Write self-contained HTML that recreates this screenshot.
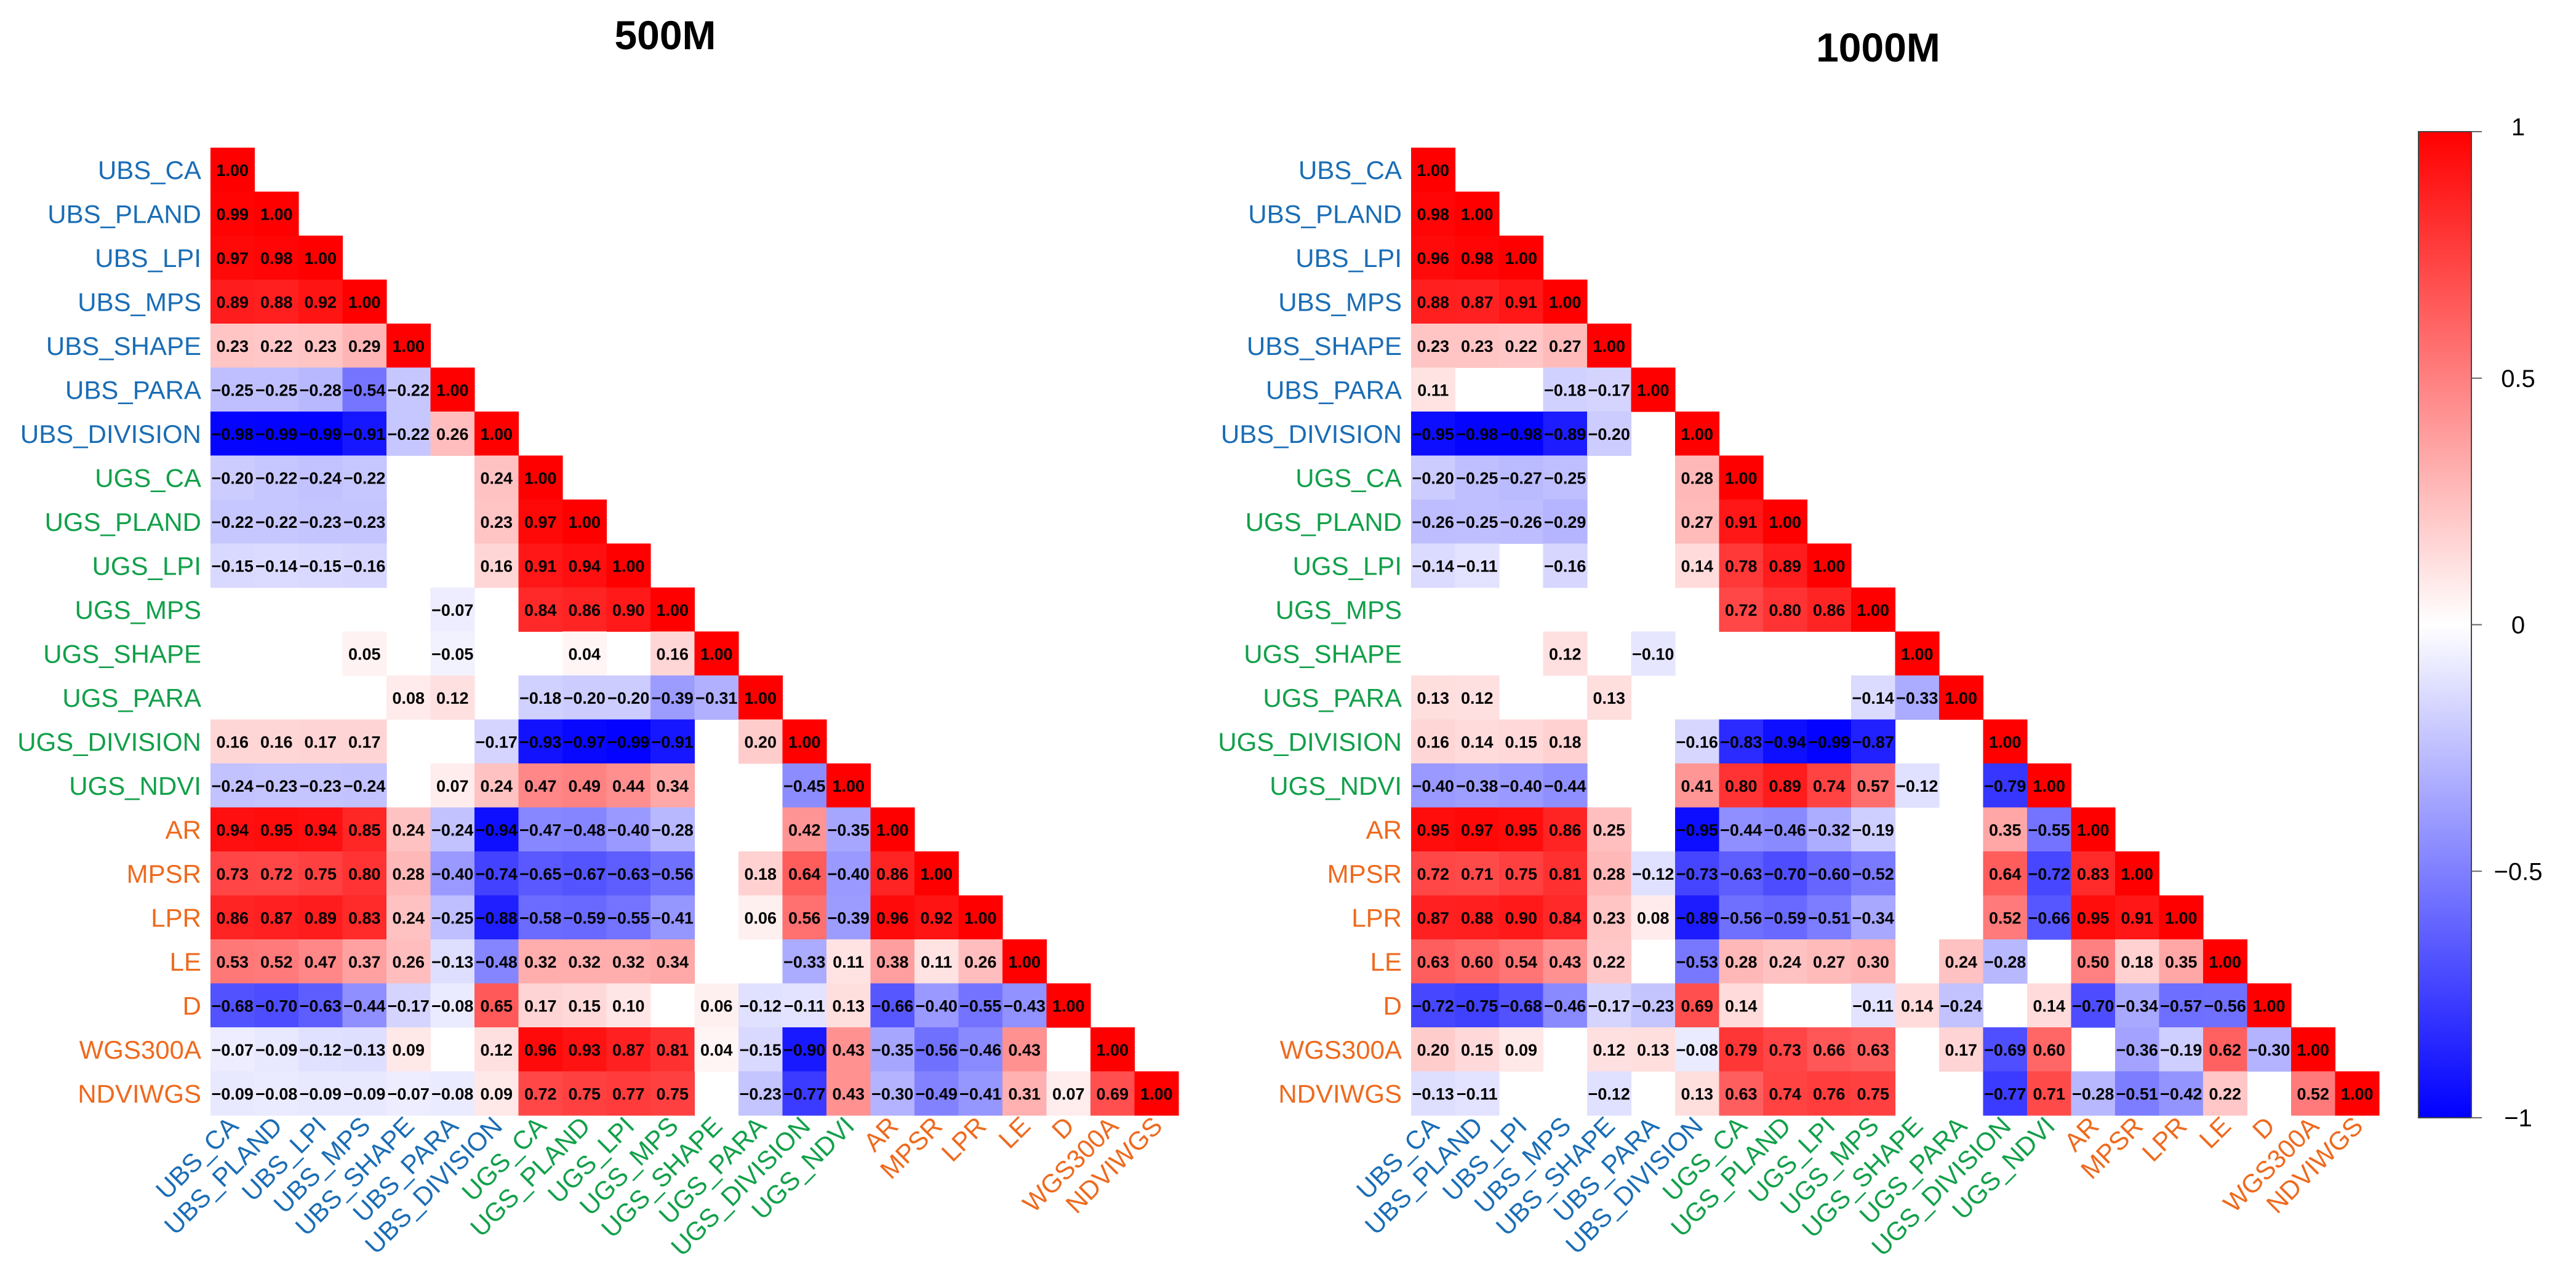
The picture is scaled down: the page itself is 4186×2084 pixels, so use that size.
<!DOCTYPE html>
<html><head><meta charset="utf-8"><title>Correlation matrices 500M / 1000M</title>
<style>
html,body{margin:0;padding:0;background:#fff;}
svg{display:block;font-family:"Liberation Sans",Arial,sans-serif;}
</style></head>
<body>
<svg id="chart" width="4186" height="2084" viewBox="0 0 4186 2084" xmlns="http://www.w3.org/2000/svg">
<defs>
<linearGradient id="cbar" x1="0" y1="0" x2="0" y2="1">
<stop offset="0" stop-color="#ff0000"/><stop offset="0.5" stop-color="#ffffff"/><stop offset="1" stop-color="#0000ff"/>
</linearGradient>
</defs>
<text x="1081" y="80" font-size="66" font-weight="bold" text-anchor="middle">500M</text>
<text x="3052" y="100" font-size="66" font-weight="bold" text-anchor="middle">1000M</text>
<g id="m1"></g>
<g id="m2"></g>
<g id="cb"></g>
</svg>
<script>
const variables = ["UBS_CA","UBS_PLAND","UBS_LPI","UBS_MPS","UBS_SHAPE","UBS_PARA","UBS_DIVISION","UGS_CA","UGS_PLAND","UGS_LPI","UGS_MPS","UGS_SHAPE","UGS_PARA","UGS_DIVISION","UGS_NDVI","AR","MPSR","LPR","LE","D","WGS300A","NDVIWGS"];
const groups = ["b","b","b","b","b","b","b","g","g","g","g","g","g","g","g","o","o","o","o","o","o","o"];
const N = null;
const corr500 = [
[1.00],
[0.99,1.00],
[0.97,0.98,1.00],
[0.89,0.88,0.92,1.00],
[0.23,0.22,0.23,0.29,1.00],
[-0.25,-0.25,-0.28,-0.54,-0.22,1.00],
[-0.98,-0.99,-0.99,-0.91,-0.22,0.26,1.00],
[-0.20,-0.22,-0.24,-0.22,N,N,0.24,1.00],
[-0.22,-0.22,-0.23,-0.23,N,N,0.23,0.97,1.00],
[-0.15,-0.14,-0.15,-0.16,N,N,0.16,0.91,0.94,1.00],
[N,N,N,N,N,-0.07,N,0.84,0.86,0.90,1.00],
[N,N,N,0.05,N,-0.05,N,N,0.04,N,0.16,1.00],
[N,N,N,N,0.08,0.12,N,-0.18,-0.20,-0.20,-0.39,-0.31,1.00],
[0.16,0.16,0.17,0.17,N,N,-0.17,-0.93,-0.97,-0.99,-0.91,N,0.20,1.00],
[-0.24,-0.23,-0.23,-0.24,N,0.07,0.24,0.47,0.49,0.44,0.34,N,N,-0.45,1.00],
[0.94,0.95,0.94,0.85,0.24,-0.24,-0.94,-0.47,-0.48,-0.40,-0.28,N,N,0.42,-0.35,1.00],
[0.73,0.72,0.75,0.80,0.28,-0.40,-0.74,-0.65,-0.67,-0.63,-0.56,N,0.18,0.64,-0.40,0.86,1.00],
[0.86,0.87,0.89,0.83,0.24,-0.25,-0.88,-0.58,-0.59,-0.55,-0.41,N,0.06,0.56,-0.39,0.96,0.92,1.00],
[0.53,0.52,0.47,0.37,0.26,-0.13,-0.48,0.32,0.32,0.32,0.34,N,N,-0.33,0.11,0.38,0.11,0.26,1.00],
[-0.68,-0.70,-0.63,-0.44,-0.17,-0.08,0.65,0.17,0.15,0.10,N,0.06,-0.12,-0.11,0.13,-0.66,-0.40,-0.55,-0.43,1.00],
[-0.07,-0.09,-0.12,-0.13,0.09,N,0.12,0.96,0.93,0.87,0.81,0.04,-0.15,-0.90,0.43,-0.35,-0.56,-0.46,0.43,N,1.00],
[-0.09,-0.08,-0.09,-0.09,-0.07,-0.08,0.09,0.72,0.75,0.77,0.75,N,-0.23,-0.77,0.43,-0.30,-0.49,-0.41,0.31,0.07,0.69,1.00]
];
const corr1000 = [
[1.00],
[0.98,1.00],
[0.96,0.98,1.00],
[0.88,0.87,0.91,1.00],
[0.23,0.23,0.22,0.27,1.00],
[0.11,N,N,-0.18,-0.17,1.00],
[-0.95,-0.98,-0.98,-0.89,-0.20,N,1.00],
[-0.20,-0.25,-0.27,-0.25,N,N,0.28,1.00],
[-0.26,-0.25,-0.26,-0.29,N,N,0.27,0.91,1.00],
[-0.14,-0.11,N,-0.16,N,N,0.14,0.78,0.89,1.00],
[N,N,N,N,N,N,N,0.72,0.80,0.86,1.00],
[N,N,N,0.12,N,-0.10,N,N,N,N,N,1.00],
[0.13,0.12,N,N,0.13,N,N,N,N,N,-0.14,-0.33,1.00],
[0.16,0.14,0.15,0.18,N,N,-0.16,-0.83,-0.94,-0.99,-0.87,N,N,1.00],
[-0.40,-0.38,-0.40,-0.44,N,N,0.41,0.80,0.89,0.74,0.57,-0.12,N,-0.79,1.00],
[0.95,0.97,0.95,0.86,0.25,N,-0.95,-0.44,-0.46,-0.32,-0.19,N,N,0.35,-0.55,1.00],
[0.72,0.71,0.75,0.81,0.28,-0.12,-0.73,-0.63,-0.70,-0.60,-0.52,N,N,0.64,-0.72,0.83,1.00],
[0.87,0.88,0.90,0.84,0.23,0.08,-0.89,-0.56,-0.59,-0.51,-0.34,N,N,0.52,-0.66,0.95,0.91,1.00],
[0.63,0.60,0.54,0.43,0.22,N,-0.53,0.28,0.24,0.27,0.30,N,0.24,-0.28,N,0.50,0.18,0.35,1.00],
[-0.72,-0.75,-0.68,-0.46,-0.17,-0.23,0.69,0.14,N,N,-0.11,0.14,-0.24,N,0.14,-0.70,-0.34,-0.57,-0.56,1.00],
[0.20,0.15,0.09,N,0.12,0.13,-0.08,0.79,0.73,0.66,0.63,N,0.17,-0.69,0.60,N,-0.36,-0.19,0.62,-0.30,1.00],
[-0.13,-0.11,N,N,-0.12,N,0.13,0.63,0.74,0.76,0.75,N,N,-0.77,0.71,-0.28,-0.51,-0.42,0.22,N,0.52,1.00]
];
const legendTicks = [1, 0.5, 0, -0.5, -1];
const legendLabels = ["1","0.5","0","\u22120.5","\u22121"];

const NS = "http://www.w3.org/2000/svg";
const groupColor = {b:"#1a6db5", g:"#12a04a", o:"#ee6a1e"};
const CELL = 71.5, Y0 = 240;
function colX(x0, j){ return x0 + j*CELL; }
function rowY(i){ return Y0 + i*CELL; }
function fill(v){
  let r,g,b;
  if(v>=0){ r=255; g=Math.round(255*(1-v)); b=g; }
  else { b=255; r=Math.round(255*(1+v)); g=r; }
  return "rgb("+r+","+g+","+b+")";
}
function fmt(v){ const s=Math.abs(v).toFixed(2); return (v<0?"\u2212":"")+s; }
function el(tag, attrs, parent){
  const e=document.createElementNS(NS,tag);
  for(const k in attrs) e.setAttribute(k, attrs[k]);
  parent.appendChild(e); return e;
}
function drawMatrix(gid, x0, data){
  const g=document.getElementById(gid);
  data.forEach((row,i)=>{
    row.forEach((v,j)=>{
      if(v===null) return;
      const r=el("rect",{x:colX(x0,j),y:rowY(i),width:CELL+0.6,height:CELL+0.6,fill:fill(v)},g);
      
      
      const t=el("text",{x:colX(x0,j)+CELL/2,y:rowY(i)+CELL/2+10,"font-size":27,"font-weight":"bold","text-anchor":"middle",fill:"#000"},g);
      t.textContent=fmt(v);
      
      
    });
  });
  variables.forEach((name,i)=>{
    const t=el("text",{x:x0-15,y:rowY(i)+CELL/2+15,"font-size":42,"text-anchor":"end",fill:groupColor[groups[i]]},g);
    t.textContent=name;
    
    
    const cx=colX(x0,i)+CELL/2+12, cy=rowY(variables.length)+20;
    const c=el("text",{x:cx,y:cy,"font-size":42,"text-anchor":"end",fill:groupColor[groups[i]],transform:"rotate(-45 "+cx+" "+cy+")"},g);
    c.textContent=name;
    
    
  });
}
drawMatrix("m1", 342, corr500);
drawMatrix("m2", 2293, corr1000);

const cb=document.getElementById("cb");
const CBX=3930, CBW=86, CBT=214, CBB=1817;
function legY(v){ return CBT + (1-v)/2*(CBB-CBT); }
const bar=el("rect",{x:CBX,y:CBT,width:CBW,height:CBB-CBT,fill:"url(#cbar)",stroke:"#444","stroke-width":2},cb);


legendTicks.forEach((v,k)=>{
  const y=legY(v);
  const l=el("line",{x1:CBX+CBW,x2:CBX+CBW+17,y1:y,y2:y,stroke:"#666","stroke-width":2},cb);
  
  
  const t=el("text",{x:CBX+CBW+76,y:y+14-(v===1?8:0),"font-size":40,"text-anchor":"middle",fill:"#000"},cb);
  t.textContent=legendLabels[k];
  
  
});
</script>
</body></html>
